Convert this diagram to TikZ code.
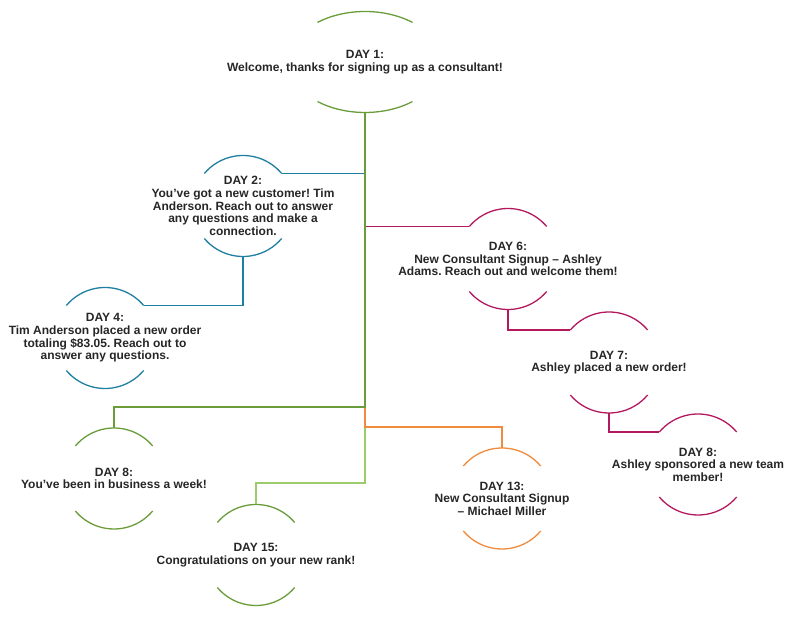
\documentclass[tikz,border=0pt]{standalone}
\usepackage{fontspec}
\setmainfont{Liberation Sans}
\usetikzlibrary{shapes.geometric}
\definecolor{dgreen}{HTML}{6A9C3A}
\definecolor{lgreen}{HTML}{9BCB6B}
\definecolor{dorange}{HTML}{F08A3C}
\definecolor{dblue}{HTML}{1F7FA1}
\definecolor{dmagenta}{HTML}{B3195E}
\definecolor{txtgray}{HTML}{262626}
\frenchspacing
\begin{document}
\begin{tikzpicture}[x=1bp, y=1bp, line width=1.3bp,
  ev/.style={circle, minimum size=101bp, inner sep=0pt, outer sep=0pt},
  txt/.style={align=center, font=\fontsize{12bp}{12.6bp}\selectfont\bfseries, text=txtgray, inner sep=0pt}]
\useasboundingbox (0,0) rectangle (800,624);
\node[ellipse, minimum width=152.6bp, minimum height=101bp, inner sep=0pt, outer sep=0pt] (ev0) at (365,562){};
\node[ev] (ev1) at (243,418){};
\node[ev] (ev2) at (105,286){};
\node[ev] (ev3) at (114,145.5){};
\node[ev] (ev4) at (256,69){};
\node[ev] (ev5) at (508,365){};
\node[ev] (ev6) at (609,261.5){};
\node[ev] (ev7) at (698,159.5){};
\node[ev] (ev8) at (502,125.5){};
\node[txt] (ev0t) at (ev0) {DAY 1:\\Welcome, thanks for signing up as a consultant!};
\node[txt] (ev1t) at (ev1) {DAY 2:\\You’ve got a new customer! Tim\\Anderson. Reach out to answer\\any questions and make a\\connection.};
\node[txt] (ev2t) at (ev2) {DAY 4:\\Tim Anderson placed a new order\\totaling \$83.05. Reach out to\\answer any questions.};
\node[txt] (ev3t) at (ev3) {DAY 8:\\You’ve been in business a week!};
\node[txt] (ev4t) at (ev4) {DAY 15:\\Congratulations on your new rank!};
\node[txt] (ev5t) at (ev5) {DAY 6:\\New Consultant Signup – Ashley\\Adams. Reach out and welcome them!};
\node[txt] (ev6t) at (ev6) {DAY 7:\\Ashley placed a new order!};
\node[txt] (ev7t) at (ev7) {DAY 8:\\Ashley sponsored a new team\\member!};
\node[txt] (ev8t) at (ev8) {DAY 13:\\New Consultant Signup\\– Michael Miller};
\draw[dgreen] ([shift={(51.5:76.3 and 50.5)}]ev0.center) arc[start angle=51.5, end angle=128.5, x radius=76.3, y radius=50.5];
\draw[dgreen] ([shift={(231.5:76.3 and 50.5)}]ev0.center) arc[start angle=231.5, end angle=308.5, x radius=76.3, y radius=50.5];
\draw[dblue] (ev1.40) arc[start angle=40, end angle=140, radius=50.5];
\draw[dblue] (ev1.220) arc[start angle=220, end angle=320, radius=50.5];
\draw[dblue] (ev2.40) arc[start angle=40, end angle=140, radius=50.5];
\draw[dblue] (ev2.220) arc[start angle=220, end angle=320, radius=50.5];
\draw[dgreen] (ev3.40) arc[start angle=40, end angle=140, radius=50.5];
\draw[dgreen] (ev3.220) arc[start angle=220, end angle=320, radius=50.5];
\draw[dgreen] (ev4.40) arc[start angle=40, end angle=140, radius=50.5];
\draw[dgreen] (ev4.220) arc[start angle=220, end angle=320, radius=50.5];
\draw[dmagenta] (ev5.40) arc[start angle=40, end angle=140, radius=50.5];
\draw[dmagenta] (ev5.220) arc[start angle=220, end angle=320, radius=50.5];
\draw[dmagenta] (ev6.40) arc[start angle=40, end angle=140, radius=50.5];
\draw[dmagenta] (ev6.220) arc[start angle=220, end angle=320, radius=50.5];
\draw[dmagenta] (ev7.40) arc[start angle=40, end angle=140, radius=50.5];
\draw[dmagenta] (ev7.220) arc[start angle=220, end angle=320, radius=50.5];
\draw[dorange] (ev8.40) arc[start angle=40, end angle=140, radius=50.5];
\draw[dorange] (ev8.220) arc[start angle=220, end angle=320, radius=50.5];
\draw[lgreen] (ev0.south) |- ([yshift=21.5]ev4.north) -- (ev4.north);
\draw[dorange] (ev0.south) |- ([yshift=21]ev8.north) -- (ev8.north);
\draw[dblue] (ev0.south) |- (ev1.40);
\draw[dblue] (ev1.south) |- (ev2.40);
\draw[dmagenta] (ev0.south) |- (ev5.140);
\draw[dmagenta] (ev5.south) |- (ev6.140);
\draw[dmagenta] (ev6.south) |- (ev7.140);
\draw[dgreen] (ev0.south) |- ([yshift=21]ev3.north) -- (ev3.north);
\end{tikzpicture}
\end{document}
